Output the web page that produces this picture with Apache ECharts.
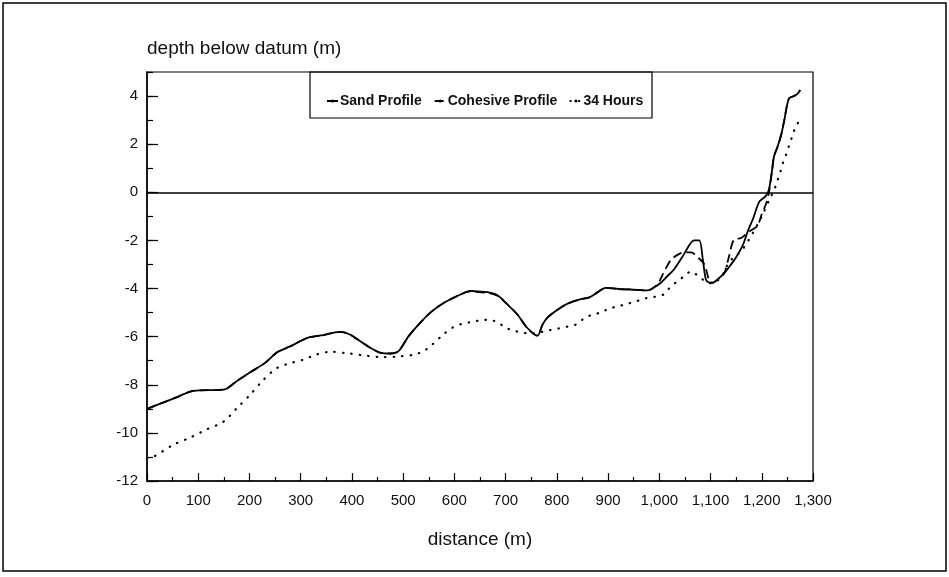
<!DOCTYPE html>
<html>
<head>
<meta charset="utf-8">
<script src="https://cdn.jsdelivr.net/npm/echarts@6/dist/echarts.min.js"></script>
<style>html,body{margin:0;padding:0;background:#fff}#c{width:949px;height:577px}</style>
</head>
<body>
<div id="c"></div>
<script>
var seriesNames = ['Sand Profile', 'Cohesive Profile', '34 Hours'];
var xTicks = [0,100,200,300,400,500,600,700,800,900,1000,1100,1200,1300];
var yTicks = [-12,-10,-8,-6,-4,-2,0,2,4];

var sandProfile = [
[0,-9.0],[30,-8.75],[60,-8.5],[90,-8.25],[150,-8.2],[175,-7.85],[200,-7.5],[230,-7.1],
[254,-6.65],[280,-6.4],[313,-6.05],[340,-5.95],[377,-5.8],[395,-5.9],[410,-6.1],[435,-6.45],
[456,-6.67],[475,-6.7],[491,-6.6],[510,-6.0],[530,-5.5],[553,-5.0],[579,-4.6],[612,-4.25],
[631,-4.1],[645,-4.12],[665,-4.15],[684,-4.28],[703,-4.65],[723,-5.08],[742,-5.63],[762,-5.96],
[772,-5.5],[782,-5.2],[800,-4.9],[821,-4.63],[845,-4.45],[862,-4.38],[880,-4.15],[895,-3.97],
[920,-4.02],[944,-4.04],[977,-4.08],[990,-3.95],[1003,-3.76],[1015,-3.5],[1029,-3.2],[1048,-2.58],
[1060,-2.15],[1068,-2.0],[1078,-2.0],[1085,-2.8],[1091,-3.63],[1098,-3.75],[1104,-3.76],[1115,-3.6],
[1127,-3.35],[1140,-3.0],[1150,-2.7],[1163,-2.2],[1173,-1.6],[1183,-1.1],[1195,-0.4],[1208,-0.15],
[1214,0.12],[1220,0.9],[1224,1.5],[1231,1.9],[1238,2.4],[1244,3.0],[1253,3.9],[1263,4.0],
[1270,4.1],[1275,4.25]
];

var cohesiveProfile = [
[0,-9.0],[30,-8.75],[60,-8.5],[90,-8.25],[150,-8.2],[175,-7.85],[200,-7.5],[230,-7.1],
[254,-6.65],[280,-6.4],[313,-6.05],[340,-5.95],[377,-5.8],[395,-5.9],[410,-6.1],[435,-6.45],
[456,-6.67],[475,-6.7],[491,-6.6],[510,-6.0],[530,-5.5],[553,-5.0],[579,-4.6],[612,-4.25],
[631,-4.12],[645,-4.15],[665,-4.18],[684,-4.3],[703,-4.65],[723,-5.08],[742,-5.63],[762,-5.96],
[772,-5.5],[782,-5.2],[800,-4.9],[821,-4.63],[845,-4.45],[862,-4.38],[880,-4.15],[895,-3.97],
[920,-4.02],[944,-4.04],[977,-4.08],[990,-3.95],[1000,-3.7],[1007,-3.4],[1023,-2.8],[1040,-2.55],
[1048,-2.5],[1062,-2.5],[1075,-2.7],[1088,-3.0],[1098,-3.7],[1104,-3.76],[1115,-3.6],[1127,-3.35],
[1136,-2.67],[1146,-1.96],[1160,-1.9],[1173,-1.67],[1185,-1.5],[1192,-1.4],[1200,-0.9],[1208,-0.5],
[1214,0.0],[1220,0.9],[1224,1.5],[1231,1.9],[1238,2.4],[1244,3.0],[1253,3.9],[1263,4.0],
[1270,4.1],[1275,4.25]
];

var hours34 = [
[0,-11.05],[12,-11.0],[51,-10.5],[84,-10.2],[117,-9.85],[149,-9.54],[176,-8.96],[202,-8.4],
[227,-7.8],[254,-7.3],[280,-7.1],[305,-6.96],[330,-6.75],[358,-6.63],[395,-6.7],[430,-6.8],
[460,-6.85],[489,-6.83],[521,-6.75],[540,-6.6],[553,-6.4],[579,-5.9],[596,-5.63],[616,-5.46],
[631,-5.4],[649,-5.33],[667,-5.3],[684,-5.4],[700,-5.63],[716,-5.75],[733,-5.83],[749,-5.88],
[765,-5.83],[782,-5.75],[801,-5.67],[821,-5.58],[837,-5.5],[853,-5.25],[870,-5.08],[886,-5.0],
[902,-4.83],[918,-4.75],[938,-4.63],[954,-4.54],[970,-4.42],[990,-4.35],[1008,-4.25],[1019,-4.0],
[1032,-3.75],[1048,-3.5],[1062,-3.29],[1077,-3.5],[1090,-3.7],[1100,-3.78],[1120,-3.55],[1136,-2.9],
[1153,-2.58],[1165,-2.3],[1183,-1.67],[1200,-1.0],[1216,-0.25],[1224,0.08],[1230,0.46],[1236,0.83],
[1241,1.2],[1247,1.54],[1253,1.92],[1259,2.3],[1265,2.67],[1275,3.04]
];

var FONT = 'Liberation Sans, Arial, sans-serif';
var chart = echarts.init(document.getElementById('c'), null, {renderer: 'canvas'});
chart.setOption({
  animation: false,
  backgroundColor: '#fff',
  color: ['#000', '#000', '#000'],
  grid: {left: 147, right: 136, top: 72, bottom: 96, show: true, borderColor: '#000', borderWidth: 1.2, backgroundColor: 'transparent'},
  legend: {
    data: seriesNames, left: 321, top: 89, itemWidth: 11, itemHeight: 4, itemGap: 12,
    textStyle: {fontFamily: FONT, fontSize: 14, fontWeight: 'bold', color: '#111', padding: [0,0,0,-3]},
    selectedMode: false
  },
  xAxis: [{
    type: 'value', min: 0, max: 1300, interval: 100,
    name: 'distance (m)', nameLocation: 'middle', nameGap: 49,
    nameTextStyle: {fontFamily: FONT, fontSize: 19, color: '#111'},
    axisLine: {onZero: false, lineStyle: {color: '#000', width: 1.5}},
    axisTick: {inside: true, length: 8, lineStyle: {color: '#000', width: 1.2}},
    minorTick: {show: true, splitNumber: 2, length: 4, lineStyle: {color: '#000', width: 1.2}},
    axisLabel: {fontFamily: FONT, fontSize: 15, color: '#111', margin: 12,
      formatter: function (v) { return xTicks.indexOf(v) >= 0 ? v.toLocaleString('en-US') : ''; }},
    splitLine: {show: false}
  }],
  yAxis: [{
    type: 'value', min: -12, max: 5, interval: 2,
    name: 'depth below datum (m)', nameLocation: 'end', nameGap: 14,
    nameTextStyle: {fontFamily: FONT, fontSize: 19, color: '#111', align: 'left', verticalAlign: 'bottom'},
    axisLine: {onZero: false, lineStyle: {color: '#000', width: 1.5}},
    axisTick: {inside: true, length: 11, lineStyle: {color: '#000', width: 1.2}},
    axisLabel: {fontFamily: FONT, fontSize: 15, color: '#111', margin: 9, showMaxLabel: false,
      formatter: function (v) { return yTicks.indexOf(v) >= 0 ? String(v) : ''; }},
    splitLine: {show: false}
  }, {
    type: 'value', min: -12, max: 5, interval: 1, position: 'left',
    axisLine: {show: false, onZero: false},
    axisTick: {inside: true, length: 6, lineStyle: {color: '#000', width: 1.2}},
    axisLabel: {show: false}, splitLine: {show: false}
  }],
  series: [{
    name: seriesNames[0], type: 'line', data: sandProfile, symbol: 'none', smooth: 0.3,
    itemStyle: {color: '#000'},
    lineStyle: {color: '#000', width: 1.8, type: 'solid'}, z: 3,
    markLine: {silent: true, symbol: 'none', label: {show: false},
      lineStyle: {color: '#000', width: 1.6, type: 'solid'}, data: [{yAxis: 0}]}
  }, {
    name: seriesNames[1], type: 'line', data: cohesiveProfile, symbol: 'none', smooth: 0.3,
    itemStyle: {color: '#000'},
    lineStyle: {color: '#000', width: 1.8, type: [9, 5]}, z: 2
  }, {
    name: seriesNames[2], type: 'line', data: hours34, symbol: 'none', smooth: 0.3,
    itemStyle: {color: '#000'},
    lineStyle: {color: '#000', width: 2.2, type: [0.5, 8], cap: 'round'}, z: 2
  }],
  graphic: [
    {type: 'rect', shape: {x: 310, y: 72, width: 342, height: 46}, style: {fill: 'transparent', stroke: '#000', lineWidth: 1.2}, z: 10},
    {type: 'rect', shape: {x: 3, y: 3, width: 943, height: 568}, style: {fill: 'transparent', stroke: '#000', lineWidth: 1.5}, z: 10}
  ]
});
</script>
</body>
</html>
